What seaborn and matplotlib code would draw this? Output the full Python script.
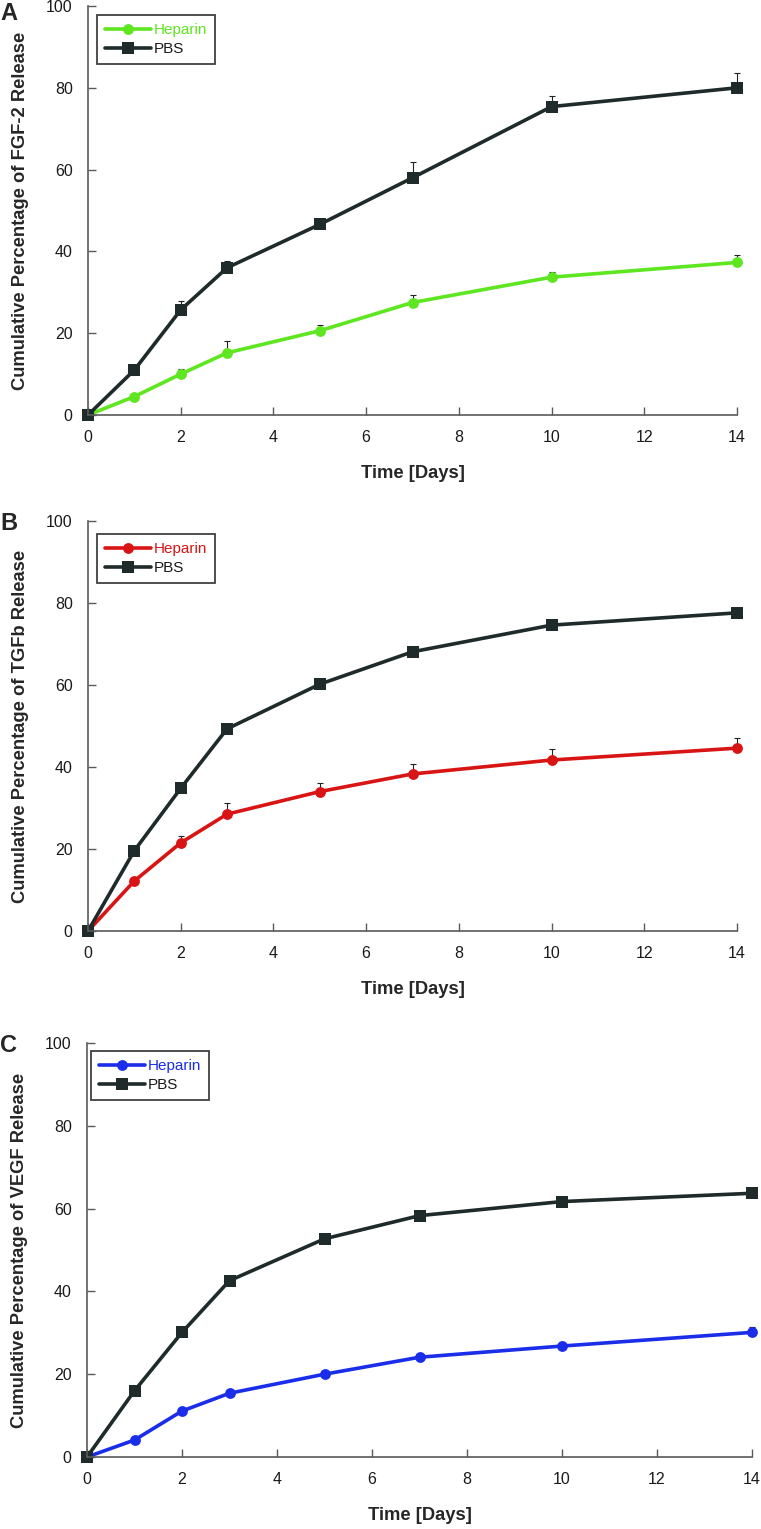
import numpy as np
import pandas as pd
import matplotlib
matplotlib.use("Agg")
import matplotlib.pyplot as plt
from matplotlib.lines import Line2D
import seaborn as sns

sns.set_style("white")
plt.rcParams['font.family'] = ['Liberation Sans', 'DejaVu Sans']

# sampling days
days = [0, 1, 2, 3, 5, 7, 10, 14]

# panel A - FGF-2
fgf_heparin = [0, 4.5, 10.0, 15.2, 20.6, 27.5, 33.7, 37.3]
fgf_heparin_err = [0, 0, 1.2, 2.9, 1.4, 1.8, 1.3, 1.8]
fgf_pbs = [0, 11.0, 25.7, 36.0, 46.6, 58.0, 75.4, 80.0]
fgf_pbs_err = [0, 0, 2.2, 1.6, 0.5, 3.8, 2.7, 3.7]

# panel B - TGFb
tgf_heparin = [0, 12.2, 21.5, 28.5, 34.0, 38.3, 41.7, 44.6]
tgf_heparin_err = [0, 0, 1.7, 2.6, 2.2, 2.4, 2.6, 2.4]
tgf_pbs = [0, 19.6, 34.8, 49.3, 60.2, 68.1, 74.6, 77.6]
tgf_pbs_err = [0, 0, 0, 0, 0, 0, 0, 0.5]

# panel C - VEGF
vegf_heparin = [0, 4.1, 11.1, 15.4, 20.0, 24.1, 26.8, 30.1]
vegf_heparin_err = [0, 0, 0, 0, 0, 0, 0, 1.4]
vegf_pbs = [0, 16.0, 30.1, 42.6, 52.7, 58.3, 61.7, 63.7]
vegf_pbs_err = [0, 0, 0, 0, 0, 0, 0, 0]

PBS_COLOR = '#1f2a2a'
AXIS_COLOR = '#5a5a5a'

W, H = 761, 1529
fig = plt.figure(figsize=(W / 100, H / 100), dpi=100)

# (letter, growth factor, heparin, heparin err, pbs, pbs err, colour,
#  axes box in px [left, top, right, bottom], legend offset px, letter y px)
panels = [
    ('A', 'FGF-2', fgf_heparin, fgf_heparin_err, fgf_pbs, fgf_pbs_err, '#5ee620',
     (88, 6, 737, 415), (9, 9), 13),
    ('B', 'TGFb', tgf_heparin, tgf_heparin_err, tgf_pbs, tgf_pbs_err, '#d81414',
     (88, 521, 737, 931), (9, 13), 523),
    ('C', 'VEGF', vegf_heparin, vegf_heparin_err, vegf_pbs, vegf_pbs_err, '#1a2de8',
     (87, 1043, 752, 1457), (4, 8), 1046),
]

for letter, gf, hep, hep_err, pbs, pbs_err, hep_color, box, leg_off, letter_y in panels:
    l, t, r, b = box
    ax = fig.add_axes([l / W, 1 - b / H, (r - l) / W, (b - t) / H])

    # error bars (upper only), drawn under the markers
    ax.errorbar(days, pbs, yerr=[np.zeros(len(pbs)), pbs_err], fmt='none',
                ecolor='#222222', elinewidth=0.8, capsize=2.2, capthick=0.8,
                zorder=1, clip_on=False)
    ax.errorbar(days, hep, yerr=[np.zeros(len(hep)), hep_err], fmt='none',
                ecolor='#222222', elinewidth=0.8, capsize=2.2, capthick=0.8,
                zorder=1, clip_on=False)

    df = pd.DataFrame({
        'day': days * 2,
        'value': list(hep) + list(pbs),
        'group': ['Heparin'] * len(days) + ['PBS'] * len(days),
    })
    sns.lineplot(data=df, x='day', y='value', hue='group', style='group',
                 markers={'Heparin': 'o', 'PBS': 's'}, dashes=False,
                 palette={'Heparin': hep_color, 'PBS': PBS_COLOR},
                 linewidth=2.6, markersize=8, markeredgewidth=0,
                 legend=False, ax=ax)
    # squares a bit bigger than circles, markers may sit on the axes edge
    for line in ax.lines:
        line.set_clip_on(False)
        if line.get_marker() == 's':
            line.set_markersize(9)
        elif line.get_marker() == 'o':
            line.set_markersize(7.8)

    ax.set_xlim(0, 14)
    ax.set_ylim(0, 100)
    ax.set_xticks([0, 2, 4, 6, 8, 10, 12, 14])
    ax.set_yticks([0, 20, 40, 60, 80, 100])
    ax.tick_params(direction='in', length=6, width=1, color=AXIS_COLOR,
                   labelsize=11.5, labelcolor='#1a1a1a', pad=11,
                   left=True, bottom=True)
    sns.despine(ax=ax)
    for side in ['left', 'bottom']:
        ax.spines[side].set_color(AXIS_COLOR)
        ax.spines[side].set_linewidth(1.2)

    ax.set_xlabel('Time [Days]', fontsize=13.2, fontweight='bold', labelpad=14)
    ax.set_ylabel(f'Cumulative Percentage of {gf} Release', fontsize=13.2,
                  fontweight='bold', labelpad=12)

    handles = [
        Line2D([], [], color=hep_color, lw=2.6, marker='o', markersize=7.8,
               markeredgewidth=0),
        Line2D([], [], color=PBS_COLOR, lw=2.6, marker='s', markersize=9,
               markeredgewidth=0),
    ]
    ox, oy = leg_off
    leg = ax.legend(handles, ['Heparin', 'PBS'], loc='upper left',
                    bbox_to_anchor=(ox / (r - l), 1 - oy / (b - t)),
                    borderaxespad=0, fontsize=11, frameon=True, fancybox=False,
                    handlelength=3.0, handletextpad=0.15, labelspacing=0.3,
                    borderpad=0.55)
    leg.get_frame().set_edgecolor('#111111')
    leg.get_frame().set_linewidth(1.3)
    leg.get_texts()[0].set_color(hep_color)
    leg.get_texts()[1].set_color('#1a1a1a')

    fig.text(0.0, 1 - letter_y / H, letter, fontsize=17, fontweight='bold',
             ha='left', va='center')

fig.savefig('out.png', dpi=100)
